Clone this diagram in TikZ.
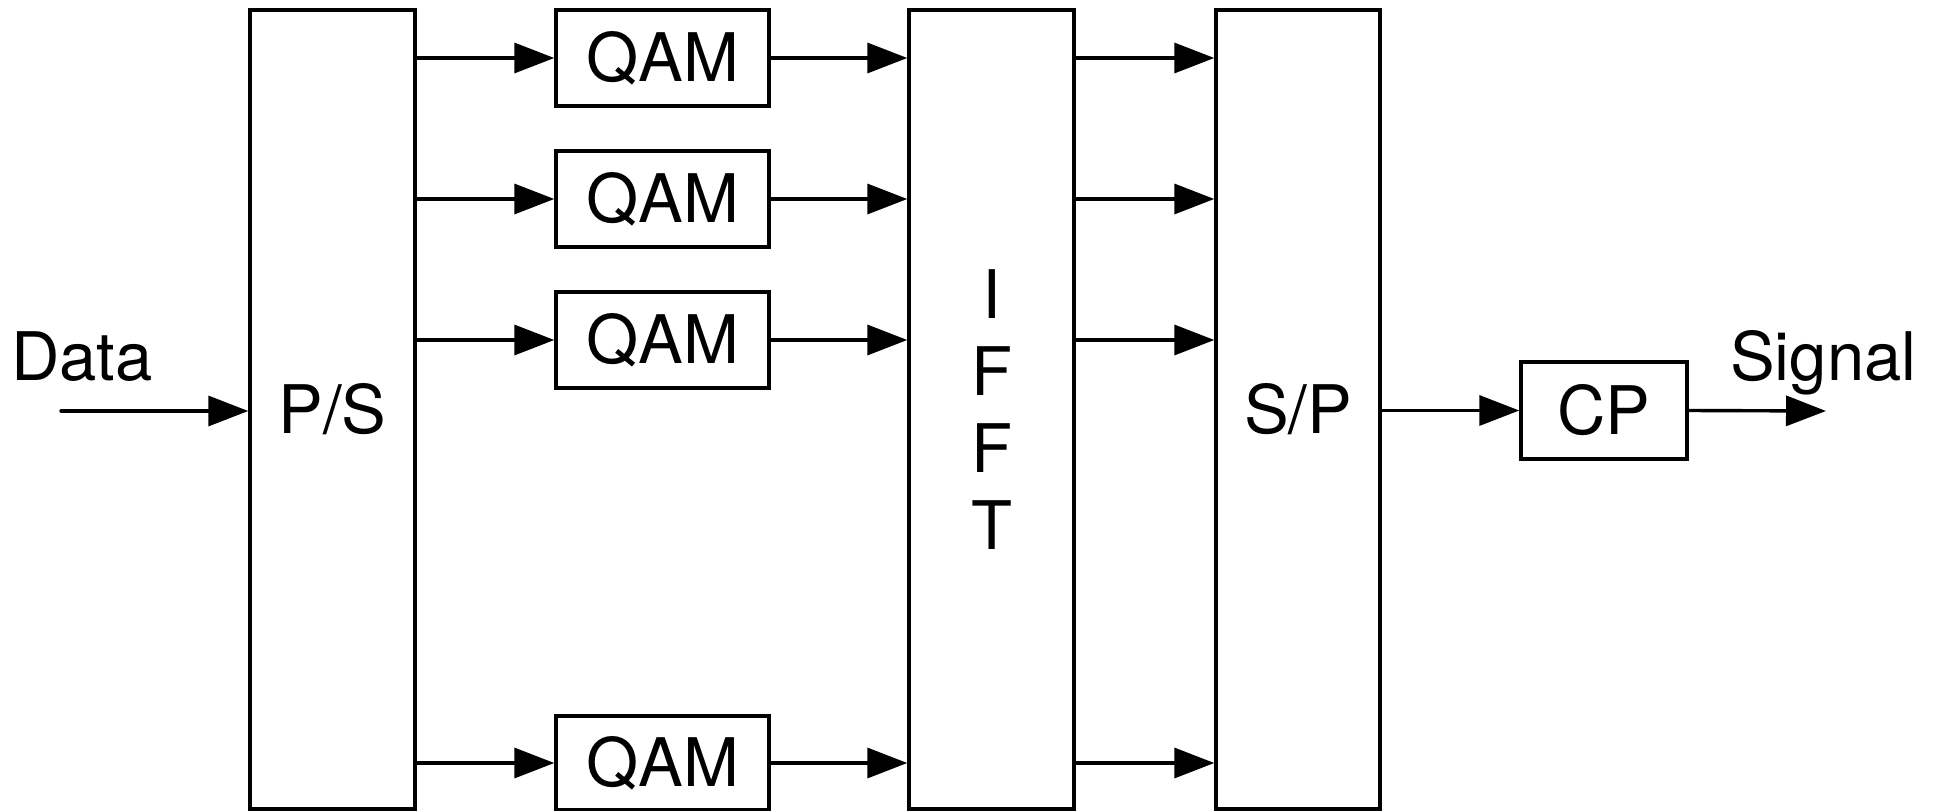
\documentclass[tikz,border=0pt]{standalone}
\usepackage{fontspec}
\setmainfont{TeX Gyre Heros}
\usetikzlibrary{arrows.meta}
\begin{document}
\begin{tikzpicture}[x=1pt,y=-1pt,
  box/.style={draw=black, line width=3.4pt, inner sep=0pt, rectangle, align=center,
    font=\fontsize{67}{77}\selectfont},
  arr/.style={line width=3.4pt, -{Triangle[length=40pt,width=30pt]}},
  lbl/.style={inner sep=0pt, font=\fontsize{67}{77}\selectfont}]
\path[use as bounding box, fill=white] (0,0) rectangle (1939,811);
% big blocks
\node[box, minimum width=165pt, minimum height=799pt] (ps) at (332.5,409.5) {P/S};
\node[box, minimum width=165pt, minimum height=799pt] (ifft) at (991.5,409.5) {I\\F\\F\\T};
\node[box, minimum width=164pt, minimum height=799pt] (sp) at (1298,409.5) {S/P};
% QAM blocks
\node[box, minimum width=213pt, minimum height=96pt] (q1) at (662.5,58) {QAM};
\node[box, minimum width=213pt, minimum height=96pt] (q2) at (662.5,199) {QAM};
\node[box, minimum width=213pt, minimum height=96pt] (q3) at (662.5,340) {QAM};
\node[box, minimum width=213pt, minimum height=94pt] (q4) at (662.5,763) {QAM};
% CP
\node[box, minimum width=166pt, minimum height=97pt] (cp) at (1604,410.5) {CP};
% labels
\node[lbl, anchor=base west] (data) at (11,380) {Data};
\node[lbl, anchor=base west] (signal) at (1730,380) {Signal};
\coordinate (din) at (61,411);
\coordinate (sout) at (1826,411);
% connectors
\draw[arr, line cap=round] (din) -- (din -| ps.west);
\foreach \q in {q1,q2,q3,q4} {
  \draw[arr] (ps.east |- \q.west) -- (\q.west);
  \draw[arr] (\q.east) -- (ifft.west |- \q.east);
  \draw[arr] (ifft.east |- \q.east) -- (sp.west |- \q.east);
}
\draw[arr] (sp.east |- cp.west) -- (cp.west);
\draw[arr] (cp.east) -- (sout);
\end{tikzpicture}
\end{document}
